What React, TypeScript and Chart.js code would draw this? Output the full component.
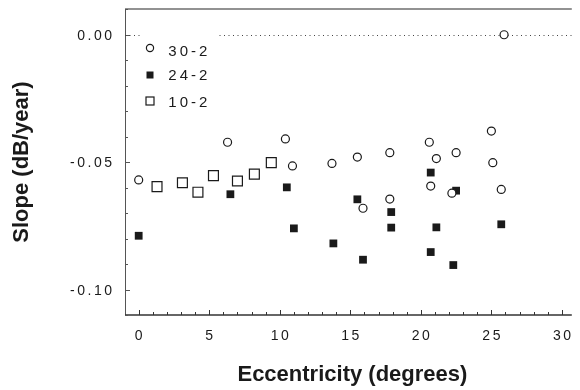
import React, { useEffect, useRef } from "react";
import { Chart, registerables } from "chart.js";

Chart.register(...registerables);

// ---- Data ----
const ECC_30_2 = [0, 6.3, 10.4, 10.9, 13.7, 15.5, 15.9, 17.8, 17.8, 20.6, 20.7, 21.1, 22.5, 22.2, 25.0, 25.1, 25.7, 25.9];
const SLOPE_30_2 = [-0.057, -0.0422, -0.0409, -0.0515, -0.0505, -0.048, -0.0681, -0.0463, -0.0645, -0.0422, -0.0594, -0.0486, -0.0463, -0.0622, -0.0378, -0.0502, -0.0607, 0.0];

const ECC_24_2 = [0, 6.5, 10.5, 11.0, 13.8, 15.5, 15.9, 17.9, 17.9, 20.7, 20.7, 21.1, 22.5, 22.3, 25.7];
const SLOPE_24_2 = [-0.0789, -0.0626, -0.0599, -0.076, -0.0819, -0.0646, -0.0883, -0.0696, -0.0757, -0.0541, -0.0853, -0.0756, -0.0612, -0.0904, -0.0744];

const ECC_10_2 = [1.3, 3.1, 4.2, 5.3, 7.0, 8.2, 9.4];
const SLOPE_10_2 = [-0.0596, -0.0581, -0.0618, -0.0553, -0.0574, -0.0547, -0.0502];

const X_TICKS = [0, 5, 10, 15, 20, 25, 30];
const X_TICK_LABELS = ["0", "5", "10", "15", "20", "25", "30"];
const Y_TICKS = [0, -0.05, -0.1];
const Y_TICK_LABELS = ["0.00", "-0.05", "-0.10"];
const LEGEND_LABELS = ["30-2", "24-2", "10-2"];
const X_TITLE = "Eccentricity (degrees)";
const Y_TITLE = "Slope (dB/year)";

const FONT = '"Liberation Sans", Arial, Helvetica, sans-serif';
const INK = "#1a1a1a";

function zip(xs: number[], ys: number[]) {
  return xs.map((x, i) => ({ x, y: ys[i] }));
}

function spacedWidth(ctx: CanvasRenderingContext2D, text: string, spacing: number) {
  let w = 0;
  for (const ch of text) w += ctx.measureText(ch).width;
  return w + spacing * (text.length - 1);
}

function drawSpaced(
  ctx: CanvasRenderingContext2D,
  text: string,
  x: number,
  y: number,
  align: "left" | "center" | "right",
  spacing: number
) {
  const w = spacedWidth(ctx, text, spacing);
  let cx = align === "left" ? x : align === "center" ? x - w / 2 : x - w;
  ctx.textAlign = "left";
  for (const ch of text) {
    ctx.fillText(ch, cx, y);
    cx += ctx.measureText(ch).width + spacing;
  }
}

function line(ctx: CanvasRenderingContext2D, x1: number, y1: number, x2: number, y2: number) {
  ctx.beginPath();
  ctx.moveTo(x1, y1);
  ctx.lineTo(x2, y2);
  ctx.stroke();
}

const decorPlugin = {
  id: "decor",
  beforeDatasetsDraw(chart: any) {
    const { ctx, chartArea: ca, scales } = chart;
    const x = scales.x;
    const y = scales.y;
    ctx.save();
    // top frame line
    ctx.strokeStyle = "#6e6e6e";
    ctx.lineWidth = 1.6;
    line(ctx, ca.left, ca.top, ca.right, ca.top);
    // left axis
    ctx.strokeStyle = "#555";
    ctx.lineWidth = 1;
    line(ctx, ca.left + 0.5, ca.top, ca.left + 0.5, ca.bottom);
    // bottom axis
    ctx.strokeStyle = "#333";
    ctx.lineWidth = 1.4;
    line(ctx, ca.left, ca.bottom, ca.right, ca.bottom);
    // x ticks (inside)
    ctx.lineWidth = 1;
    ctx.strokeStyle = "#333";
    for (let v = Math.ceil(x.min); v <= x.max; v++) {
      const px = Math.round(x.getPixelForValue(v)) + 0.5;
      const len = v % 5 === 0 ? 5 : 3;
      line(ctx, px, ca.bottom, px, ca.bottom - len);
    }
    // y ticks (inside)
    ctx.strokeStyle = "#555";
    for (let i = Math.ceil(y.min * 100 - 1e-6); i <= Math.floor(y.max * 100 + 1e-6); i++) {
      const py = Math.round(y.getPixelForValue(i / 100)) + 0.5;
      const len = i % 5 === 0 ? 5 : 3;
      line(ctx, ca.left, py, ca.left + len, py);
    }
    // dotted zero line
    const y0 = Math.round(y.getPixelForValue(0)) + 0.5;
    ctx.strokeStyle = "#444";
    ctx.lineWidth = 1;
    ctx.setLineDash([1, 3.5]);
    line(ctx, ca.left, y0, ca.right, y0);
    ctx.setLineDash([]);

    // tick labels
    ctx.fillStyle = INK;
    ctx.font = `14px ${FONT}`;
    ctx.textBaseline = "alphabetic";
    X_TICKS.forEach((v, i) => {
      drawSpaced(ctx, X_TICK_LABELS[i], x.getPixelForValue(v), ca.bottom + 24.5, "center", 2.5);
    });
    Y_TICKS.forEach((v, i) => {
      drawSpaced(ctx, Y_TICK_LABELS[i], ca.left - 13, y.getPixelForValue(v) + 5, "right", 2.5);
    });

    // axis titles
    ctx.font = `bold 22px ${FONT}`;
    ctx.textBaseline = "middle";
    ctx.textAlign = "center";
    ctx.fillText(X_TITLE, (ca.left + ca.right) / 2 + 4, 374.5);
    ctx.save();
    ctx.translate(22, (ca.top + ca.bottom) / 2);
    ctx.rotate(-Math.PI / 2);
    ctx.fillText(Y_TITLE, 0, 0);
    ctx.restore();
    ctx.restore();
  },
  afterDatasetsDraw(chart: any) {
    const { ctx, chartArea: ca } = chart;
    ctx.save();
    // legend box background (interrupts dotted line)
    const lx = ca.left + 15;
    ctx.fillStyle = "#fff";
    ctx.fillRect(lx, ca.top + 18, 78, 95);
    const mx = ca.left + 25;
    const rows = [48, 75, 101];
    const textRows = [50.7, 75, 101.3];
    ctx.strokeStyle = INK;
    ctx.lineWidth = 1.2;
    // circle
    ctx.beginPath();
    ctx.arc(mx, rows[0], 3.6, 0, Math.PI * 2);
    ctx.fillStyle = "#fff";
    ctx.fill();
    ctx.stroke();
    // filled square
    ctx.fillStyle = INK;
    ctx.fillRect(mx - 3.5, rows[1] - 3.5, 7, 7);
    // open square
    ctx.fillStyle = "#fff";
    ctx.fillRect(mx - 4, rows[2] - 4, 8, 8);
    ctx.strokeRect(mx - 4, rows[2] - 4, 8, 8);
    // text
    ctx.fillStyle = INK;
    ctx.font = `15px ${FONT}`;
    ctx.textBaseline = "alphabetic";
    LEGEND_LABELS.forEach((t, i) => {
      drawSpaced(ctx, t, ca.left + 43.3, textRows[i] + 5.3, "left", 3);
    });
    ctx.restore();
  },
};

export default function App() {
  const canvasRef = useRef<HTMLCanvasElement | null>(null);

  useEffect(() => {
    const canvas = canvasRef.current;
    if (!canvas) return;
    const chart = new Chart(canvas, {
      type: "scatter",
      data: {
        datasets: [
          {
            label: LEGEND_LABELS[0],
            data: zip(ECC_30_2, SLOPE_30_2),
            pointStyle: "circle",
            pointRadius: 4,
            borderWidth: 1.2,
            borderColor: INK,
            backgroundColor: "#fff",
            clip: false as any,
          },
          {
            label: LEGEND_LABELS[1],
            data: zip(ECC_24_2, SLOPE_24_2),
            pointStyle: "rect",
            pointRadius: 5.5,
            borderWidth: 0,
            borderColor: INK,
            backgroundColor: INK,
            clip: false as any,
          },
          {
            label: LEGEND_LABELS[2],
            data: zip(ECC_10_2, SLOPE_10_2),
            pointStyle: "rect",
            pointRadius: 7,
            borderWidth: 1.2,
            borderColor: INK,
            backgroundColor: "#fff",
            clip: false as any,
          },
        ],
      },
      options: {
        responsive: false,
        animation: false,
        devicePixelRatio: 1,
        layout: { padding: { top: 9, left: 0, right: 0, bottom: 0 } },
        plugins: {
          legend: { display: false },
          tooltip: { enabled: false },
        },
        events: [],
        scales: {
          x: {
            type: "linear",
            min: -0.97,
            max: 30.7,
            grid: { display: false },
            border: { display: false },
            ticks: { display: false },
            afterBuildTicks: (s: any) => {
              s.ticks = X_TICKS.map((v) => ({ value: v }));
            },
            afterFit: (s: any) => {
              s.height = 75;
              s.paddingLeft = 0;
              s.paddingRight = 0;
            },
          },
          y: {
            type: "linear",
            min: -0.11,
            max: 0.0101,
            grid: { display: false },
            border: { display: false },
            ticks: { display: false },
            afterBuildTicks: (s: any) => {
              s.ticks = Y_TICKS.map((v) => ({ value: v }));
            },
            afterFit: (s: any) => {
              s.width = 125;
              s.paddingTop = 0;
              s.paddingBottom = 0;
            },
          },
        },
      },
      plugins: [decorPlugin as any],
    });
    return () => chart.destroy();
  }, []);

  return (
    <div style={{ position: "fixed", left: 0, top: 0, width: 580, height: 390, background: "#fff" }}>
      <canvas ref={canvasRef} width={580} height={390} style={{ display: "block" }} />
    </div>
  );
}
